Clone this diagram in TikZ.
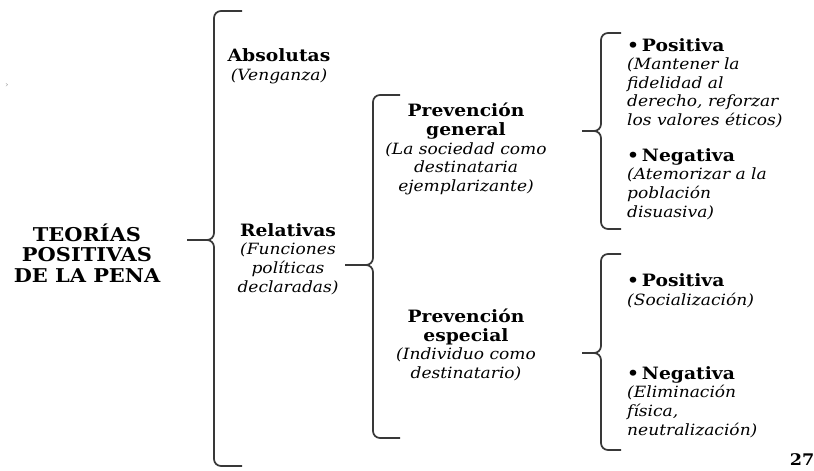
\documentclass[tikz,border=0pt]{standalone}
\usepackage{fontspec}
\setmainfont{DejaVu Serif}[FakeStretch=1.1]
\usetikzlibrary{positioning}

% heading lines inside the italic nodes
\newcommand{\titu}[1]{{\fontsize{17}{18.6}\selectfont\upshape\bfseries #1}}

% brace: x vertical, x tip, x ends, y top, y middle, y bottom
\newcommand{\llave}[6]{%
  \draw[llave] (#3,#4) -- (#1,#4) -- (#1,#5) -- (#2,#5);
  \draw[llave] (#2,#5) -- (#1,#5) -- (#1,#6) -- (#3,#6);}

\begin{document}
\begin{tikzpicture}[
    x=1pt, y=1pt,
    titulo/.style={align=center, inner sep=0pt, font=\fontsize{19}{20.5}\selectfont\bfseries},
    rama/.style={align=center, inner sep=0pt, font=\fontsize{15.5}{18.6}\selectfont\itshape},
    hoja/.style={align=left, anchor=west, inner sep=0pt, font=\fontsize{15.5}{18.6}\selectfont\itshape},
    llave/.style={line width=1.7pt, draw=black!78, rounded corners=7pt}
]
\useasboundingbox (0,0) rectangle (814,471);

% Root
\node[titulo] (teorias) at (87,218) {TEORÍAS\\POSITIVAS\\DE LA PENA};
\node[font=\fontsize{8}{9}\selectfont, text=black!40] (marca) at (7,386) {›};

% First level
\node[rama] (absolutas) at (279,405) {\titu{Absolutas}\\(Venganza)};
\node[rama] (relativas) at (288,212) {\titu{Relativas}\\(Funciones\\políticas\\declaradas)};

% Second level
\node[rama] (general) at (466,322) {\titu{Prevención}\\\titu{general}\\(La sociedad como\\destinataria\\ejemplarizante)};
\node[rama] (especial) at (466,126) {\titu{Prevención}\\\titu{especial}\\(Individuo como\\destinatario)};

% Leaves
\node[hoja] (gpos) at (627,388) {\titu{\textbullet\,Positiva}\\(Mantener la\\fidelidad al\\derecho, reforzar\\los valores éticos)};
\node[hoja] (gneg) at (627,287) {\titu{\textbullet\,Negativa}\\(Atemorizar a la\\población\\disuasiva)};
\node[hoja] (epos) at (627,180) {\titu{\textbullet\,Positiva}\\(Socialización)};
\node[hoja] (eneg) at (627,69) {\titu{\textbullet\,Negativa}\\(Eliminación\\física,\\neutralización)};

% Braces
\llave{214}{187}{242}{460}{231}{5}
\llave{373}{345}{400}{376}{206}{33}
\llave{601}{582}{621}{438}{340}{242}
\llave{601}{582}{621}{217}{118}{21}

% Page number
\node[font=\fontsize{16}{18}\selectfont\bfseries] (pagina) at (802,11) {27};

\end{tikzpicture}
\end{document}
